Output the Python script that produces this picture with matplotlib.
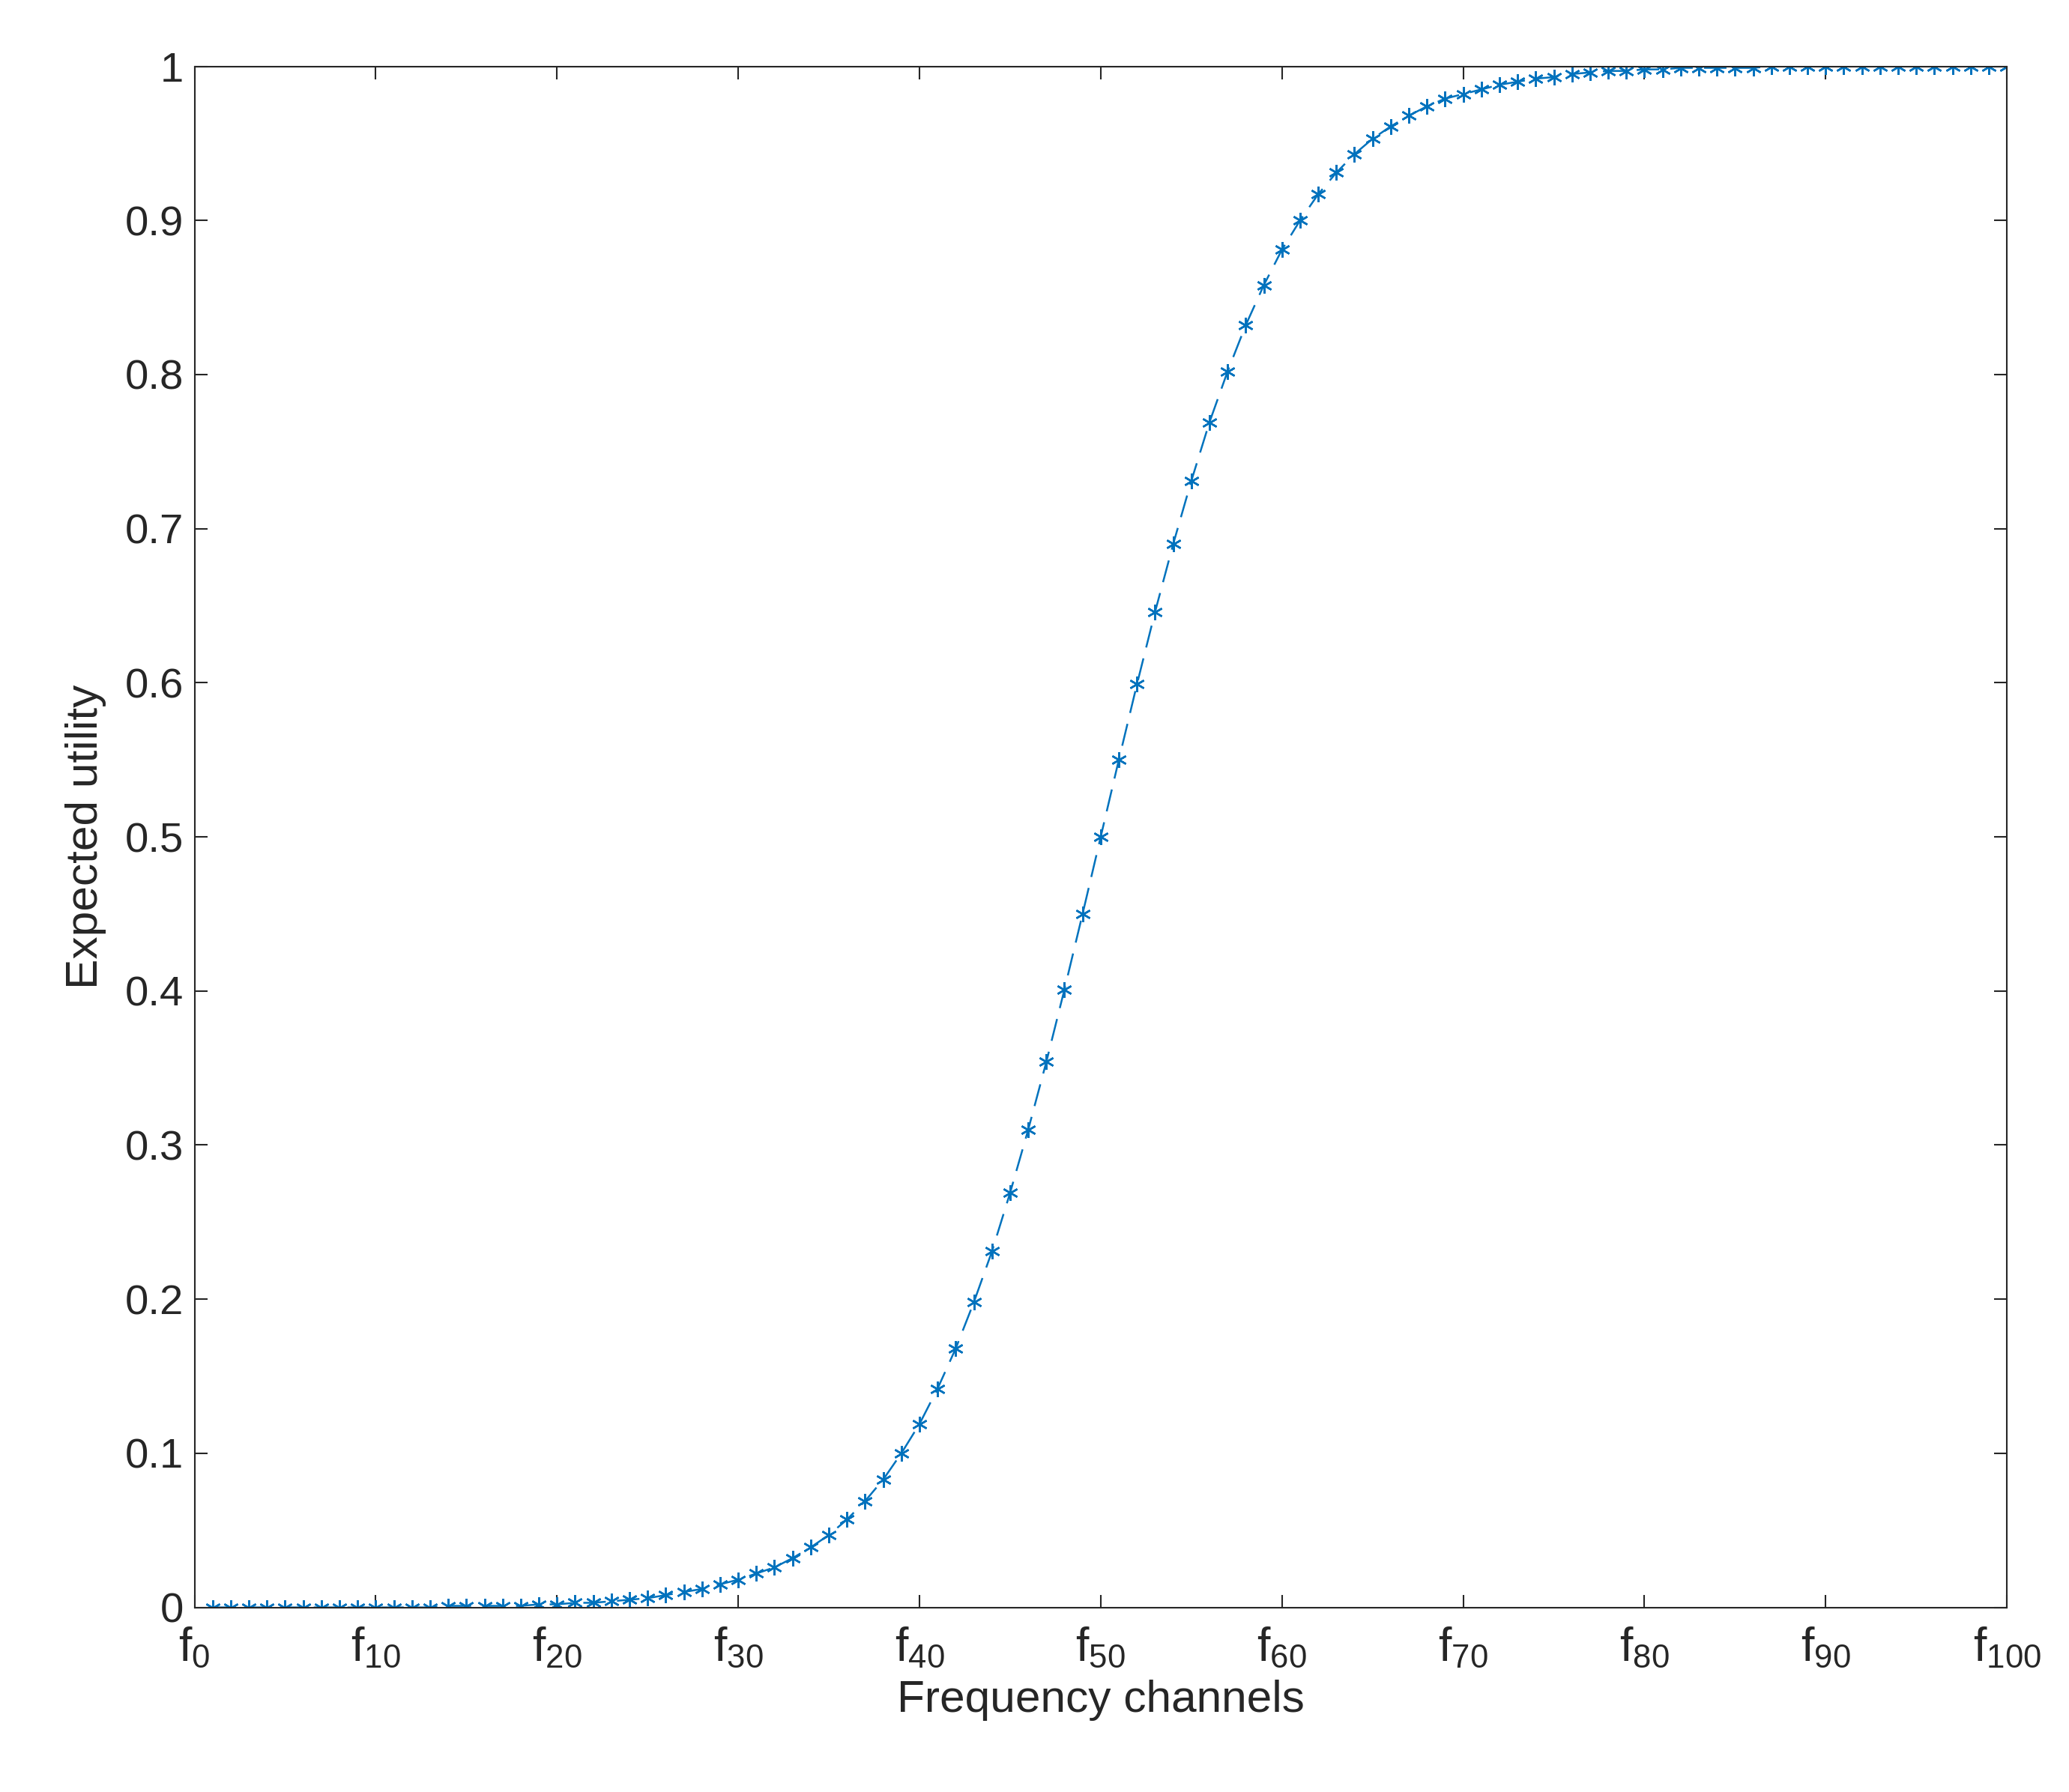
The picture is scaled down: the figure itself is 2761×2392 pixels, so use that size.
import matplotlib
matplotlib.use("Agg")
import matplotlib.pyplot as plt

plt.rcParams['font.family'] = ['Liberation Sans', 'DejaVu Sans']
plt.rcParams['mathtext.fontset'] = 'custom'
plt.rcParams['mathtext.rm'] = 'Liberation Sans'
plt.rcParams['mathtext.it'] = 'Liberation Sans'

channels = list(range(1, 101))
utility = [
    0.000, 0.000, 0.000, 0.000, 0.000, 0.000, 0.000, 0.000, 0.000,
    0.000, 0.000, 0.000, 0.000, 0.001, 0.001, 0.001, 0.001, 0.001, 0.002,
    0.002, 0.003, 0.003, 0.004, 0.005, 0.006, 0.008, 0.010, 0.012, 0.015,
    0.018, 0.022, 0.026, 0.032, 0.039, 0.047, 0.057, 0.069, 0.083, 0.100,
    0.119, 0.142, 0.168, 0.198, 0.231, 0.269, 0.310, 0.354, 0.401, 0.450,
    0.500, 0.550, 0.599, 0.646, 0.690, 0.731, 0.769, 0.802, 0.832, 0.858,
    0.881, 0.900, 0.917, 0.931, 0.943, 0.953, 0.961, 0.968, 0.974, 0.979,
    0.982, 0.985, 0.988, 0.990, 0.992, 0.993, 0.995, 0.996, 0.997, 0.997,
    0.998, 0.998, 0.999, 0.999, 0.999, 0.999, 0.999, 1.000, 1.000, 1.000,
    1.000, 1.000, 1.000, 1.000, 1.000, 1.000, 1.000, 1.000, 1.000, 1.000,
    1.000,
]
xtick_pos = list(range(0, 101, 10))
xtick_labels = [r'f$_{%d}$' % v for v in xtick_pos]
ytick_pos = [i / 10 for i in range(11)]
ytick_labels = ['0'] + ['%.1f' % v for v in ytick_pos[1:-1]] + ['1']

fig = plt.figure(figsize=(2761 / 300, 2392 / 300), dpi=300)
ax = fig.add_axes([0.094, 0.103, 0.876, 0.860])
ax.plot(channels, utility, linestyle=(0, (12, 6)), linewidth=0.6, color='#0072BD',
        marker=(6, 2, 0), markersize=5, markeredgewidth=0.6)
ax.set_xlim(0, 100)
ax.set_ylim(0, 1)
ax.set_xticks(xtick_pos)
ax.set_xticklabels(xtick_labels, fontsize=15)
ax.set_yticks(ytick_pos)
ax.set_yticklabels(ytick_labels, fontsize=13.5)
ax.tick_params(direction='in', top=True, right=True, length=4, width=0.5, colors='#262626',
               labelcolor='#262626')
ax.tick_params(axis='x', pad=6)
for s in ax.spines.values():
    s.set_linewidth(0.5)
    s.set_color('#262626')
ax.set_xlabel('Frequency channels', fontsize=14.5, color='#262626', labelpad=3)
ax.set_ylabel('Expected utility', fontsize=14.5, color='#262626', labelpad=6)
fig.savefig('out.png', dpi=300)
